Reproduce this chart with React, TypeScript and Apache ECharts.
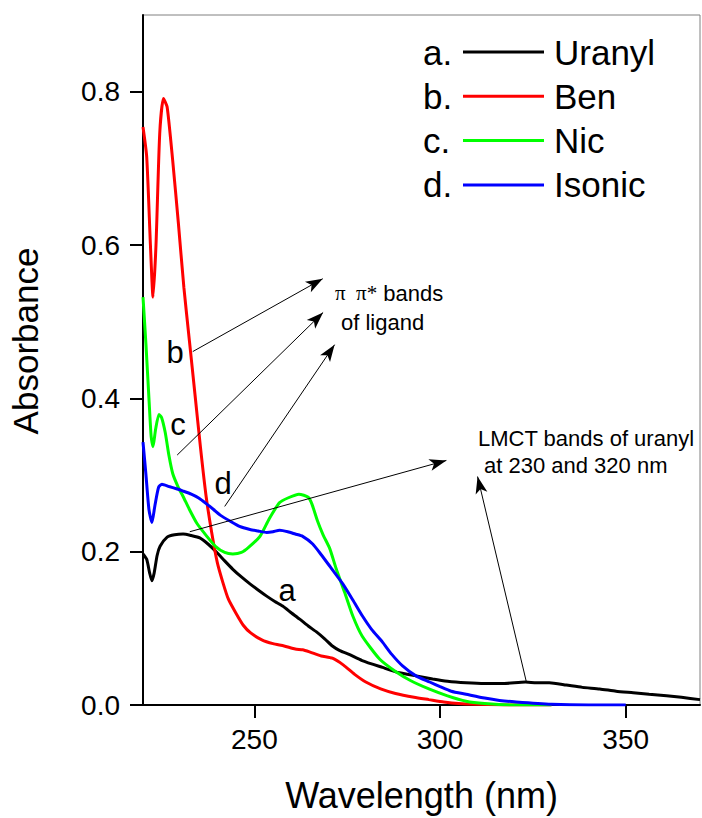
import React, { useEffect, useRef } from "react";
import * as echarts from "echarts";

// ---- data (wavelength nm, absorbance) ----
const uranyl: [number, number][] = [
  [220, 0.197], [221, 0.19], [221.8, 0.172], [222.4, 0.162], [223, 0.172], [223.8, 0.195],
  [224.6, 0.207], [226.5, 0.219], [228.5, 0.222], [230.8, 0.223], [233, 0.221], [235.3, 0.218],
  [237.5, 0.21], [239.9, 0.199], [242, 0.188], [244.2, 0.177], [246.5, 0.167], [248.8, 0.158],
  [251, 0.15], [253.3, 0.142], [255.5, 0.135], [257.6, 0.129], [260, 0.12], [262.2, 0.112],
  [264.5, 0.103], [266.8, 0.095], [269, 0.086], [271, 0.077], [273, 0.071], [275.5, 0.066],
  [279, 0.058], [284.5, 0.049], [289, 0.042], [293.6, 0.038], [298, 0.034], [302, 0.031],
  [307, 0.029], [312, 0.028], [317, 0.028], [323, 0.03], [326, 0.029], [329.4, 0.029],
  [334, 0.026], [338.3, 0.023], [343, 0.021], [347.4, 0.018], [352, 0.016], [356.3, 0.014],
  [361, 0.012], [365, 0.01], [370, 0.007],
];

const ben: [number, number][] = [
  [220, 0.754], [221, 0.715], [222, 0.6], [222.7, 0.532], [223.5, 0.6], [224.5, 0.745],
  [225.5, 0.791], [226.5, 0.78], [228, 0.71], [229.5, 0.63], [231, 0.545], [232.5, 0.475],
  [234, 0.405], [235.5, 0.335], [237, 0.272], [238.5, 0.225], [240, 0.186], [241.5, 0.16],
  [243, 0.138], [245, 0.12], [247, 0.104], [249, 0.094], [252, 0.085], [255, 0.08],
  [258, 0.077], [261, 0.073], [263, 0.072], [265, 0.069], [268, 0.064], [271, 0.061],
  [274, 0.052], [277, 0.04], [280, 0.03], [284, 0.021], [288, 0.015], [293, 0.01],
  [297, 0.007], [301, 0.004], [305, 0.002], [310, 0.001], [320, 0], [330, 0],
];

const nic: [number, number][] = [
  [220, 0.532], [220.8, 0.47], [221.6, 0.4], [222.2, 0.35], [222.7, 0.337], [223.4, 0.36],
  [224.3, 0.379], [225, 0.375], [226, 0.355], [227, 0.325], [228, 0.302], [229.5, 0.284],
  [230.8, 0.272], [232.5, 0.255], [234.5, 0.237], [237.2, 0.22], [239.5, 0.207], [242, 0.199],
  [244.2, 0.197], [246.5, 0.199], [248.5, 0.206], [251.5, 0.22], [254, 0.243], [256.8, 0.264],
  [259, 0.27], [262, 0.275], [264.5, 0.271], [265.5, 0.262], [267, 0.24], [268.5, 0.222],
  [270.3, 0.204], [272, 0.178], [274.3, 0.147], [276.5, 0.116], [279, 0.09], [283.7, 0.06],
  [288.2, 0.043], [292, 0.032], [297, 0.021], [302, 0.012], [307, 0.005], [312, 0.002],
  [320, 0], [330, 0],
];

const isonic: [number, number][] = [
  [220, 0.343], [220.8, 0.3], [221.6, 0.255], [222.4, 0.238], [223.2, 0.26], [224.2, 0.284],
  [225.1, 0.288], [227, 0.285], [229, 0.282], [230.8, 0.279], [233, 0.275], [235, 0.27],
  [237.2, 0.262], [239, 0.255], [241, 0.247], [243.4, 0.24], [246, 0.233], [248.8, 0.229],
  [251, 0.227], [253.3, 0.225], [255, 0.226], [256.8, 0.228], [259, 0.226], [261, 0.223],
  [263, 0.22], [265.7, 0.21], [268, 0.196], [270.3, 0.181], [273.8, 0.158], [276.5, 0.137],
  [279.1, 0.116], [281.5, 0.099], [284.5, 0.082], [287, 0.066], [289.9, 0.051], [293.5, 0.038],
  [297.2, 0.03], [300, 0.024], [303, 0.018], [307, 0.014], [312, 0.009], [316, 0.006],
  [320.5, 0.004], [330, 0.001], [340, 0], [350, 0],
];

const seriesNames = ["Uranyl", "Ben", "Nic", "Isonic"];
const seriesPrefixes = ["a.", "b.", "c.", "d."];
const seriesColors = ["#000000", "#ff0000", "#00ff00", "#0000ff"];

const xTicks = [250, 300, 350];
const yTicks = [0, 0.2, 0.4, 0.6, 0.8];

// annotation arrows: [from, to] in data coordinates (nm, absorbance)
const arrows: [[number, number], [number, number]][] = [
  [[233.4, 0.461], [268.4, 0.556]],
  [[229.2, 0.326], [268.5, 0.512]],
  [[242.0, 0.259], [271.6, 0.47]],
  [[232.6, 0.226], [301.7, 0.319]],
  [[323.2, 0.031], [310.1, 0.298]],
];

const FONT = "'Liberation Sans', Arial, Helvetica, sans-serif";

export default function App() {
  const ref = useRef<HTMLDivElement>(null);

  useEffect(() => {
    if (!ref.current) return;
    const chart = echarts.init(ref.current, null, { renderer: "svg" });
    const allData = [uranyl, ben, nic, isonic];

    const series: any[] = allData.map((d, i) => ({
      name: seriesNames[i],
      type: "line",
      data: d,
      showSymbol: false,
      smooth: 0.2,
      lineStyle: { color: seriesColors[i], width: 3 },
      itemStyle: { color: seriesColors[i] },
      silent: true,
      z: 3,
    }));

    series.push({
      name: "arrows",
      type: "line",
      data: [],
      silent: true,
      markLine: {
        silent: true,
        animation: false,
        label: { show: false },
        lineStyle: { color: "#000", width: 1, type: "solid" },
        emphasis: { disabled: true },
        data: arrows.map(([a, b]) => [
          { coord: a, symbol: "none" },
          { coord: b, symbol: "arrow", symbolSize: [9, 17] },
        ]),
      },
      z: 4,
    });

    const legendTop = 32;
    const rowH = 44.3;
    const legendFont = 35;

    const option: any = {
      animation: false,
      backgroundColor: "#ffffff",
      textStyle: { fontFamily: FONT },
      grid: {
        left: 143,
        right: 2,
        top: 15,
        bottom: 112,
        show: true,
        borderColor: "#808080",
        borderWidth: 1,
      },
      legend: {
        data: seriesNames,
        orient: "vertical",
        left: 463,
        top: legendTop,
        padding: 0,
        icon: "rect",
        itemWidth: 81,
        itemHeight: 3,
        itemGap: rowH - 40,
        selectedMode: false,
        textStyle: {
          fontSize: legendFont,
          lineHeight: 40,
          color: "#000",
          fontFamily: FONT,
          padding: [0, 0, 0, 5],
        },
      },
      xAxis: {
        type: "value",
        min: 220,
        max: 370,
        name: "Wavelength (nm)",
        nameLocation: "middle",
        nameGap: 72,
        nameTextStyle: { fontSize: 36, color: "#000", fontFamily: FONT },
        axisLine: { show: true, onZero: false, lineStyle: { color: "#000", width: 2 } },
        axisTick: { show: true, customValues: xTicks, length: 13, lineStyle: { color: "#000", width: 2 } },
        axisLabel: { customValues: xTicks, fontSize: 28, color: "#000", margin: 20, fontFamily: FONT },
        splitLine: { show: false },
      },
      yAxis: {
        type: "value",
        min: 0,
        max: 0.9,
        name: "Absorbance",
        nameLocation: "middle",
        nameGap: 100,
        nameTextStyle: { fontSize: 35, color: "#000", fontFamily: FONT, padding: [0, 0, 0, 38] },
        axisLine: { show: true, onZero: false, lineStyle: { color: "#000", width: 2 } },
        axisTick: { show: true, customValues: yTicks, length: 13, lineStyle: { color: "#000", width: 2 } },
        axisLabel: {
          customValues: yTicks,
          fontSize: 28,
          color: "#000",
          margin: 23,
          fontFamily: FONT,
          formatter: (v: number) => v.toFixed(1),
        },
        splitLine: { show: false },
      },
      series,
      graphic: [
        ...seriesPrefixes.map((p, i) => ({
          type: "text",
          left: 423,
          top: legendTop + i * rowH,
          style: { text: p, fontSize: legendFont, fill: "#000", fontFamily: FONT, lineHeight: 40 },
          silent: true,
        })),
        { type: "text", x: 175, y: 352, style: { text: "b", fontSize: 31, fill: "#000", fontFamily: FONT, align: "center", verticalAlign: "middle" }, silent: true },
        { type: "text", x: 178, y: 424, style: { text: "c", fontSize: 31, fill: "#000", fontFamily: FONT, align: "center", verticalAlign: "middle" }, silent: true },
        { type: "text", x: 223, y: 483, style: { text: "d", fontSize: 31, fill: "#000", fontFamily: FONT, align: "center", verticalAlign: "middle" }, silent: true },
        { type: "text", x: 287, y: 590, style: { text: "a", fontSize: 31, fill: "#000", fontFamily: FONT, align: "center", verticalAlign: "middle" }, silent: true },
        {
          type: "text",
          x: 335,
          y: 293,
          style: {
            text: "{p|π  π*} bands",
            fontSize: 22,
            fill: "#000",
            fontFamily: FONT,
            verticalAlign: "middle",
            rich: { p: { fontSize: 21, fontFamily: "'Liberation Serif', 'DejaVu Serif', serif", fill: "#000" } },
          },
          silent: true,
        },
        { type: "text", x: 341, y: 322, style: { text: "of ligand", fontSize: 22, fill: "#000", fontFamily: FONT, verticalAlign: "middle" }, silent: true },
        { type: "text", x: 478, y: 438, style: { text: "LMCT bands of uranyl", fontSize: 22, fill: "#000", fontFamily: FONT, verticalAlign: "middle" }, silent: true },
        { type: "text", x: 484, y: 465, style: { text: "at 230 and 320 nm", fontSize: 22, fill: "#000", fontFamily: FONT, verticalAlign: "middle" }, silent: true },
      ],
    };

    chart.setOption(option);
    return () => chart.dispose();
  }, []);

  return (
    <div
      ref={ref}
      style={{ position: "fixed", left: 0, top: 0, width: 702, height: 818, background: "#fff" }}
    />
  );
}
